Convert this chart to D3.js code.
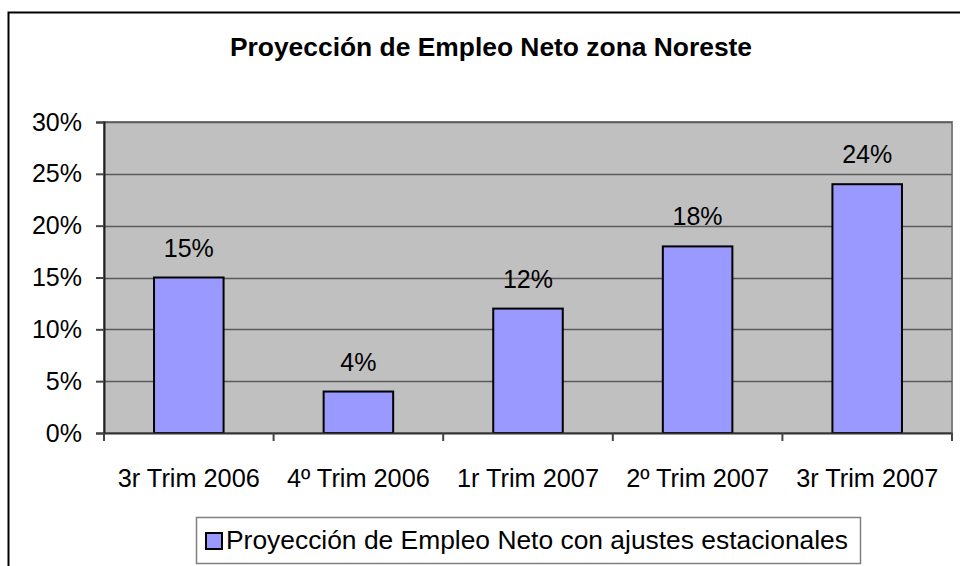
<!DOCTYPE html>
<html>
<head>
<meta charset="utf-8">
<script src="https://cdn.jsdelivr.net/npm/d3@7"></script>
<style>
  body { margin: 0; background: #fff; }
  text { font-family: "Liberation Sans", Arial, sans-serif; fill: #000; }
</style>
</head>
<body>
<svg id="chart" width="960" height="566"></svg>
<script>
const categories = ["3r Trim 2006", "4º Trim 2006", "1r Trim 2007", "2º Trim 2007", "3r Trim 2007"];
const values = [0.15, 0.04, 0.12, 0.18, 0.24];
const yTicks = [0, 0.05, 0.10, 0.15, 0.20, 0.25, 0.30];
const seriesName = "Proyección de Empleo Neto con ajustes estacionales";
const title = "Proyección de Empleo Neto zona Noreste";

const svg = d3.select("#chart");
const plotLeft = 104, plotRight = 952, plotTop = 122, plotBottom = 433;

// outer frame
svg.append("rect")
    .attr("x", 8.5).attr("y", 12.5)
    .attr("width", 980).attr("height", 600)
    .attr("fill", "#fff")
    .attr("stroke", "#000")
    .attr("stroke-width", 2);

svg.append("text")
    .attr("x", 491)
    .attr("y", 56)
    .attr("text-anchor", "middle")
    .attr("font-size", 26.4)
    .attr("font-weight", "bold")
    .text(title);

const x = d3.scaleBand()
    .domain(categories)
    .range([plotLeft, plotRight])
    .paddingInner(0.59)
    .paddingOuter(0.295);

const y = d3.scaleLinear()
    .domain([0, 0.30])
    .range([plotBottom, plotTop]);

// plot background
svg.append("rect")
    .attr("x", plotLeft).attr("y", plotTop)
    .attr("width", plotRight - plotLeft).attr("height", plotBottom - plotTop)
    .attr("fill", "#c0c0c0")
    .attr("stroke", "#808080")
    .attr("stroke-width", 2);

// gridlines
svg.append("g")
    .selectAll("line")
    .data(yTicks.slice(1))
    .join("line")
    .attr("x1", plotLeft).attr("x2", plotRight)
    .attr("y1", d => Math.round(y(d)) + 0.5)
    .attr("y2", d => Math.round(y(d)) + 0.5)
    .attr("stroke", "#5a5a5a")
    .attr("stroke-width", 1.5);

// bars
svg.append("g")
    .selectAll("rect")
    .data(values)
    .join("rect")
    .attr("x", (d, i) => x(categories[i]))
    .attr("y", d => y(d))
    .attr("width", x.bandwidth())
    .attr("height", d => y(0) - y(d))
    .attr("fill", "#9999ff")
    .attr("stroke", "#000")
    .attr("stroke-width", 2);

// value labels
svg.append("g")
    .selectAll("text")
    .data(values)
    .join("text")
    .attr("x", (d, i) => x(categories[i]) + x.bandwidth() / 2)
    .attr("y", d => y(d) - 21)
    .attr("text-anchor", "middle")
    .attr("font-size", 25)
    .text(d => d3.format(".0%")(d));

// y axis
const yAxis = svg.append("g")
    .attr("transform", `translate(${plotLeft},0)`)
    .call(d3.axisLeft(y).tickValues(yTicks).tickFormat(d3.format(".0%")).tickSize(8).tickPadding(14));
yAxis.select(".domain").attr("stroke", "#222").attr("stroke-width", 2);
yAxis.selectAll(".tick line").attr("stroke", "#444").attr("stroke-width", 2);
yAxis.selectAll("text").attr("font-size", 25).attr("font-family", "Liberation Sans, Arial, sans-serif");

// x axis
const xAxis = svg.append("g")
    .attr("transform", `translate(0,${plotBottom})`)
    .call(d3.axisBottom(x).tickSize(0).tickPadding(36));
xAxis.select(".domain").attr("stroke", "#333").attr("stroke-width", 2);
xAxis.selectAll("text").attr("font-size", 25.3).attr("font-family", "Liberation Sans, Arial, sans-serif");

// category separators
const step = (plotRight - plotLeft) / categories.length;
svg.append("g")
    .selectAll("line")
    .data(d3.range(categories.length + 1))
    .join("line")
    .attr("x1", i => plotLeft + i * step)
    .attr("x2", i => plotLeft + i * step)
    .attr("y1", plotBottom)
    .attr("y2", plotBottom + 8)
    .attr("stroke", "#444")
    .attr("stroke-width", 2);

// legend
const legend = svg.append("g");
legend.append("rect")
    .attr("x", 196.5).attr("y", 517.5)
    .attr("width", 664).attr("height", 46)
    .attr("fill", "#fff")
    .attr("stroke", "#808080")
    .attr("stroke-width", 1.5);
legend.append("rect")
    .attr("x", 206).attr("y", 533)
    .attr("width", 16).attr("height", 16)
    .attr("fill", "#9999ff")
    .attr("stroke", "#000")
    .attr("stroke-width", 2);
legend.append("text")
    .attr("x", 226)
    .attr("y", 549)
    .attr("font-size", 26.4)
    .text(seriesName);
</script>
</body>
</html>
